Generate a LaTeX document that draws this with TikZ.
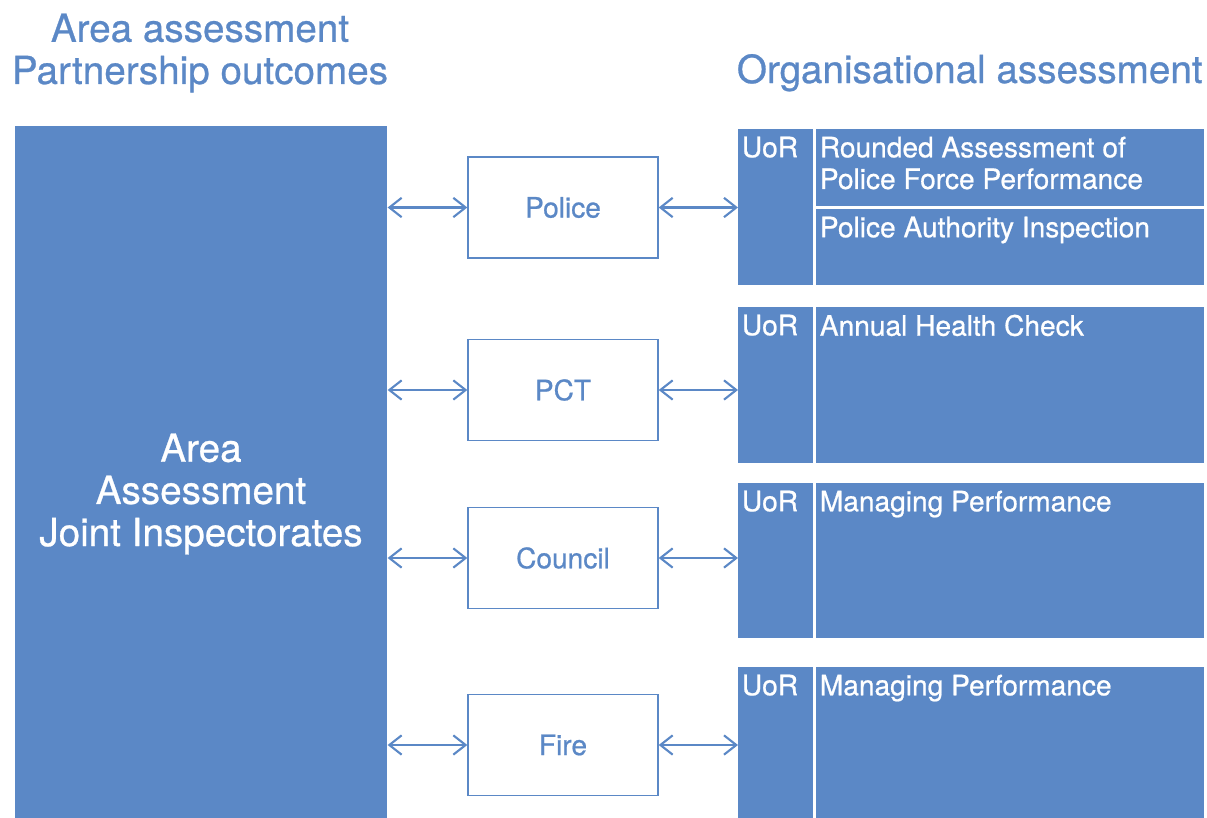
\documentclass[tikz,border=0pt]{standalone}
\usepackage{fontspec}
\setmainfont{TeX Gyre Heros}[FakeBold=0.7]
\usetikzlibrary{arrows.meta, positioning}
\definecolor{areablue}{HTML}{5B88C6}

\tikzset{
  cell/.style={fill=areablue, inner sep=0pt, anchor=north west},
  celltext/.style={white, anchor=north west, inner xsep=2pt, inner ysep=4.2pt, align=left, font=\fontsize{16}{18}\selectfont},
  orgbox/.style={draw=areablue, line width=0.8pt, fill=white, minimum width=3.8cm, minimum height=2.02cm, text=areablue, font=\fontsize{16}{18}\selectfont},
  link/.style={areablue, line width=1.2pt, {Straight Barb[length=7pt, width=11pt]}-{Straight Barb[length=7pt, width=11pt]}},
  heading/.style={areablue, inner sep=0pt, font=\fontsize{22}{24}\selectfont}
}

\begin{document}
\begin{tikzpicture}[x=0.02cm, y=-0.02cm]
  \useasboundingbox (0,0) rectangle (1207,818);

  % Headings
  \node[heading, align=center] (areahead) at (200,53) {Area assessment\\Partnership outcomes};
  \node[heading, anchor=base east] (orghead) at (1203,83) {Organisational assessment};

  % Area assessment column
  \node[cell, minimum width=7.44cm, minimum height=13.84cm] (area) at (15,126) {};
  \node[heading, white, align=center] (areatext) at (201,494) {Area\\Assessment\\Joint Inspectorates};

  % Organisations
  \node[orgbox] (police) at (563,207.5) {Police};
  \node[orgbox] (pct) at (563,390) {PCT};
  \node[orgbox] (council) at (563,558) {Council};
  \node[orgbox] (fire) at (563,745) {Fire};

  % Organisational assessment blocks
  \node[cell, minimum width=1.5cm, minimum height=3.12cm] (uorA) at (738,129) {};
  \node[cell, minimum width=7.76cm, minimum height=1.54cm] (cellAa) at (816,129) {};
  \node[cell, minimum width=7.76cm, minimum height=1.52cm] (cellAb) at (816,209) {};
  \node[celltext] (uorAtext) at (uorA.north west) {UoR};
  \node[celltext] (cellAatext) at (cellAa.north west) {Rounded Assessment of\\Police Force Performance};
  \node[celltext] (cellAbtext) at (cellAb.north west) {Police Authority Inspection};

  \node[cell, minimum width=1.5cm, minimum height=3.12cm] (uorB) at (738,307) {};
  \node[cell, minimum width=7.76cm, minimum height=3.12cm] (cellB) at (816,307) {};
  \node[celltext] (uorBtext) at (uorB.north west) {UoR};
  \node[celltext] (cellBtext) at (cellB.north west) {Annual Health Check};

  \node[cell, minimum width=1.5cm, minimum height=3.1cm] (uorC) at (738,483) {};
  \node[cell, minimum width=7.76cm, minimum height=3.1cm] (cellC) at (816,483) {};
  \node[celltext] (uorCtext) at (uorC.north west) {UoR};
  \node[celltext] (cellCtext) at (cellC.north west) {Managing Performance};

  \node[cell, minimum width=1.5cm, minimum height=3.04cm] (uorD) at (738,667) {};
  \node[cell, minimum width=7.76cm, minimum height=3.04cm] (cellD) at (816,667) {};
  \node[celltext] (uorDtext) at (uorD.north west) {UoR};
  \node[celltext] (cellDtext) at (cellD.north west) {Managing Performance};

  % Links
  \draw[link] (police.west -| area.east) -- (police.west);
  \draw[link] (pct.west -| area.east) -- (pct.west);
  \draw[link] (council.west -| area.east) -- (council.west);
  \draw[link] (fire.west -| area.east) -- (fire.west);

  \draw[link] (police.east) -- (police.east -| uorA.west);
  \draw[link] (pct.east) -- (pct.east -| uorB.west);
  \draw[link] (council.east) -- (council.east -| uorC.west);
  \draw[link] (fire.east) -- (fire.east -| uorD.west);
\end{tikzpicture}
\end{document}
